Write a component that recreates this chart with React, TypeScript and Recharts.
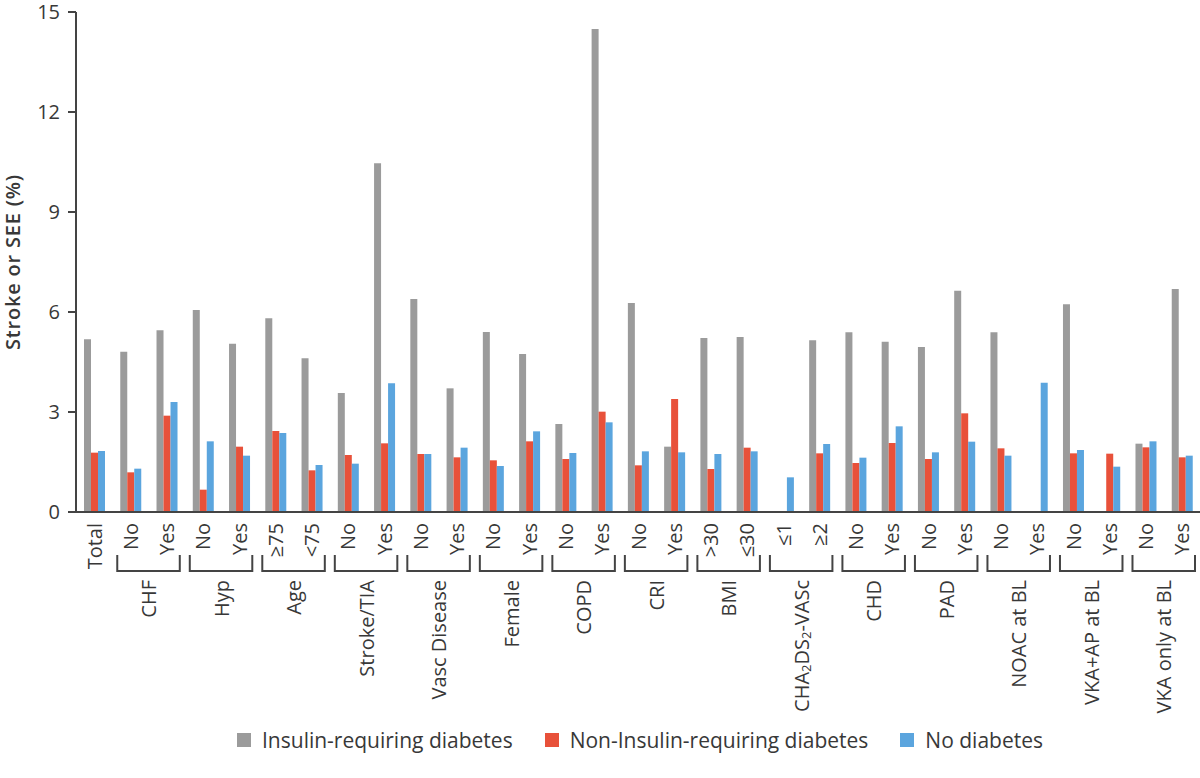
import { Bar, BarChart, Label, Legend, XAxis, YAxis } from "recharts";

const FONT = '"Open Sans", sans-serif';
const INK = "#444444";
const TEXT = "#383838";

const GRAY = "#9b9b9b";
const RED = "#e8513a";
const BLUE = "#5ba5de";

// one tick label per bar group; every pair after "Total" sits under a bracket
const categories = [
  "Total",
  "No", "Yes",
  "No", "Yes",
  "≥75", "<75",
  "No", "Yes",
  "No", "Yes",
  "No", "Yes",
  "No", "Yes",
  "No", "Yes",
  ">30", "≤30",
  "≤1", "≥2",
  "No", "Yes",
  "No", "Yes",
  "No", "Yes",
  "No", "Yes",
  "No", "Yes",
];

const groups = [
  "CHF",
  "Hyp",
  "Age",
  "Stroke/TIA",
  "Vasc Disease",
  "Female",
  "COPD",
  "CRI",
  "BMI",
  "CHA2DS2-VASc",
  "CHD",
  "PAD",
  "NOAC at BL",
  "VKA+AP at BL",
  "VKA only at BL",
];

const seriesNames = [
  "Insulin-requiring diabetes",
  "Non-Insulin-requiring diabetes",
  "No diabetes",
];
const seriesColors = [GRAY, RED, BLUE];

const insulin = [
  5.18, 4.81, 5.45, 6.06, 5.05, 5.81, 4.61, 3.57, 10.46, 6.39, 3.71, 5.4, 4.74,
  2.64, 14.49, 6.27, 1.96, 5.22, 5.25, null, 5.15, 5.39, 5.11, 4.95, 6.64, 5.39,
  null, 6.23, null, 2.05, 6.69,
];
const nonInsulin = [
  1.78, 1.19, 2.89, 0.67, 1.96, 2.43, 1.25, 1.71, 2.06, 1.74, 1.64, 1.55, 2.12,
  1.59, 3.01, 1.4, 3.39, 1.29, 1.93, null, 1.76, 1.47, 2.07, 1.59, 2.96, 1.91,
  null, 1.76, 1.75, 1.94, 1.64,
];
const noDiabetes = [
  1.83, 1.3, 3.3, 2.12, 1.69, 2.37, 1.41, 1.45, 3.86, 1.74, 1.93, 1.38, 2.42,
  1.77, 2.69, 1.82, 1.79, 1.74, 1.82, 1.04, 2.04, 1.63, 2.57, 1.79, 2.11, 1.69,
  3.88, 1.86, 1.36, 2.12, 1.69,
];

const yTicks = [0, 3, 6, 9, 12, 15];

const data = categories.map((label, i) => ({
  id: i,
  label,
  insulin: insulin[i],
  nonInsulin: nonInsulin[i],
  none: noDiabetes[i],
}));

function groupText(name: string) {
  if (name !== "CHA2DS2-VASc") return name;
  // subscripted 2s
  return [
    <tspan key="a">CHA</tspan>,
    <tspan key="b" fontSize={13} dy={5}>2</tspan>,
    <tspan key="c" dy={-5}>DS</tspan>,
    <tspan key="d" fontSize={13} dy={5}>2</tspan>,
    <tspan key="e" dy={-5}>-VASc</tspan>,
  ];
}

function CategoryTick(props: any) {
  const { x, y, payload } = props;
  const i = payload.index ?? Number(payload.value);
  const half = payload.offset || 18.1;
  const textStyle = { fontFamily: FONT, fontSize: 20, fill: TEXT };

  return (
    <g>
      <text
        transform={`translate(${x},${y + 11}) rotate(-90)`}
        textAnchor="end"
        dominantBaseline="central"
        style={textStyle}
      >
        {categories[i]}
      </text>
      {i > 0 && i % 2 === 1 && (
        <g>
          <path
            d={`M${x - half + 5},${y + 43} V${y + 59} H${x + 3 * half - 5} V${y + 43}`}
            fill="none"
            stroke={INK}
            strokeWidth={2}
          />
          <text
            transform={`translate(${x + half},${y + 68}) rotate(-90)`}
            textAnchor="end"
            dominantBaseline="central"
            style={textStyle}
          >
            {groupText(groups[(i - 1) / 2])}
          </text>
        </g>
      )}
    </g>
  );
}

function YTitle(props: any) {
  const vb = props.viewBox || { y: 12, height: 500 };
  return (
    <text
      transform={`translate(12,${vb.y + vb.height / 2}) rotate(-90)`}
      textAnchor="middle"
      dominantBaseline="central"
      style={{
        fontFamily: FONT,
        fontSize: 20,
        fontWeight: 600,
        letterSpacing: 0.8,
        fill: TEXT,
      }}
    >
      Stroke or SEE (%)
    </text>
  );
}

// legend drawn from our own list so the series keep the reference order
function LegendRow() {
  return (
    <div
      style={{
        display: "flex",
        alignItems: "center",
        paddingLeft: 237,
        fontFamily: FONT,
        fontSize: 21,
        color: TEXT,
      }}
    >
      {seriesNames.map((name, i) => (
        <div
          key={name}
          style={{ display: "flex", alignItems: "center", marginRight: 32 }}
        >
          <span
            style={{
              width: 14,
              height: 14,
              background: seriesColors[i],
              marginRight: 11,
              display: "inline-block",
            }}
          />
          <span>{name}</span>
        </div>
      ))}
    </div>
  );
}

export default function App() {
  return (
    <div
      style={{
        position: "absolute",
        left: 0,
        top: 0,
        width: 1200,
        height: 778,
        background: "#fff",
      }}
    >
      <BarChart
        width={1200}
        height={778}
        data={data}
        margin={{ top: 12, right: 0, bottom: 0, left: 0 }}
        barSize={7}
        barGap={0}
      >
        <XAxis
          dataKey="id"
          type="category"
          height={266}
          interval={0}
          tickLine={false}
          tickSize={0}
          tickMargin={0}
          axisLine={{ stroke: INK, strokeWidth: 2 }}
          tick={<CategoryTick />}
        />
        <YAxis
          width={76}
          domain={[0, 15]}
          ticks={yTicks}
          interval={0}
          tickSize={8}
          tickMargin={8}
          axisLine={{ stroke: INK, strokeWidth: 2 }}
          tickLine={{ stroke: INK, strokeWidth: 2 }}
          tick={{ fontFamily: FONT, fontSize: 20, fill: TEXT }}
        >
          <Label content={<YTitle />} />
        </YAxis>
        <Legend
          verticalAlign="middle"
          layout="horizontal"
          align="center"
          wrapperStyle={{ top: 726, left: 0, width: 1200 }}
          content={<LegendRow />}
        />
        <Bar
          dataKey="insulin"
          name={seriesNames[0]}
          fill={seriesColors[0]}
          isAnimationActive={false}
        />
        <Bar
          dataKey="nonInsulin"
          name={seriesNames[1]}
          fill={seriesColors[1]}
          isAnimationActive={false}
        />
        <Bar
          dataKey="none"
          name={seriesNames[2]}
          fill={seriesColors[2]}
          isAnimationActive={false}
        />
      </BarChart>
    </div>
  );
}
